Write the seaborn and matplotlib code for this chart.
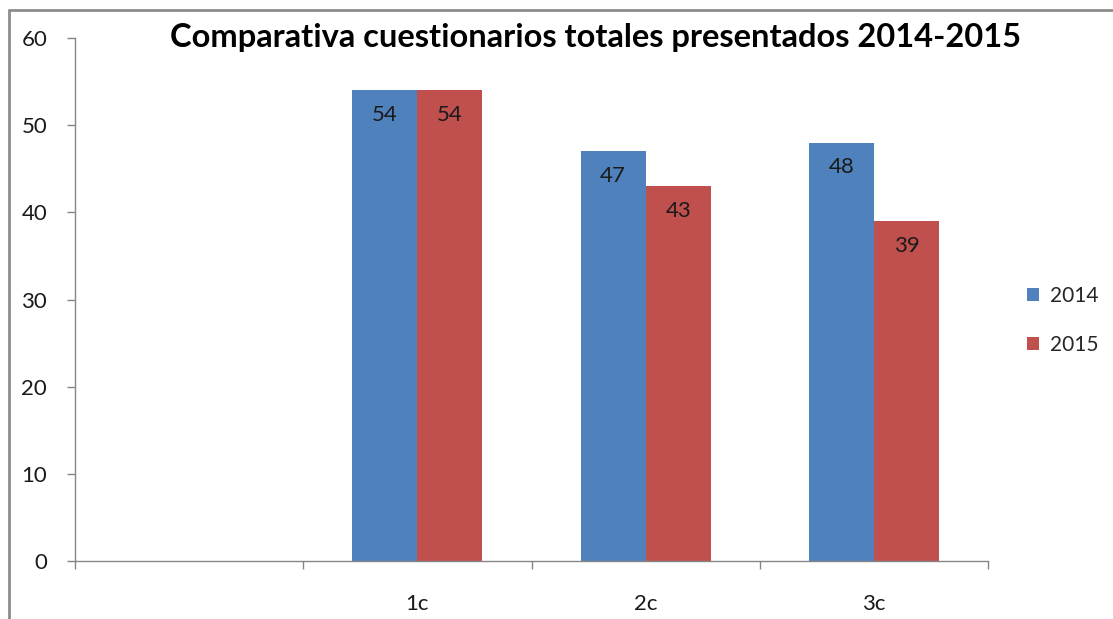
import pandas as pd
import seaborn as sns
import matplotlib.pyplot as plt
from matplotlib.lines import Line2D

categories = ["", "1c", "2c", "3c"]
series = ["2014", "2015"]
values_2014 = [None, 54, 47, 48]
values_2015 = [None, 54, 43, 39]
y_ticks = [0, 10, 20, 30, 40, 50, 60]
title = "Comparativa cuestionarios totales presentados 2014-2015"

colors = {"2014": "#4F81BD", "2015": "#C0504D"}
axis_grey = "#868686"

rows = []
for cat, v14, v15 in zip(categories, values_2014, values_2015):
    if v14 is not None:
        rows.append({"cat": cat, "year": "2014", "value": v14})
    if v15 is not None:
        rows.append({"cat": cat, "year": "2015", "value": v15})
df = pd.DataFrame(rows)

sns.set_style("white")
plt.rcParams["font.family"] = ["Lato", "DejaVu Sans"]

fig = plt.figure(figsize=(11.13, 6.19), dpi=100)
ax = fig.add_axes([75 / 1113, 1 - 561 / 619, (988 - 75) / 1113, (561 - 38) / 619])

sns.barplot(
    data=df, x="cat", y="value", hue="year", order=categories,
    hue_order=series, palette=colors, width=0.57, gap=0,
    saturation=1, errorbar=None, ax=ax, legend=True, linewidth=0,
)

# data labels inside bar tops
for container in ax.containers:
    ax.bar_label(container, padding=-25, fontsize=16, color="#1a1a1a")

ax.set_ylim(0, 60)
ax.set_xlim(-0.5, len(categories) - 0.5)
ax.set_yticks(y_ticks)
ax.set_xlabel("")
ax.set_ylabel("")

# category boundary ticks, labels at centres
ax.set_xticks([i - 0.5 for i in range(len(categories) + 1)])
ax.set_xticklabels([])
ax.set_xticks(range(len(categories)), minor=True)
ax.set_xticklabels(categories, minor=True)
ax.tick_params(axis="x", which="major", bottom=True, length=6, width=1,
               color=axis_grey, direction="out")
ax.tick_params(axis="x", which="minor", bottom=False, length=0, pad=24,
               labelsize=16, labelcolor="#1a1a1a")
ax.tick_params(axis="y", left=True, length=6, width=1, color=axis_grey,
               direction="out", pad=14, labelsize=16, labelcolor="#1a1a1a")

sns.despine(ax=ax)
for side in ["left", "bottom"]:
    ax.spines[side].set_color(axis_grey)
    ax.spines[side].set_linewidth(1)

leg = ax.legend(
    loc="center left", bbox_to_anchor=(1.022, 0.46), frameon=False,
    fontsize=15, handlelength=0.6, handleheight=0.6, handletextpad=0.5,
    labelspacing=1.4,
)

fig.text(596 / 1113, 1 - 38 / 619, title, ha="center", va="center",
         fontsize=23.5, fontweight="bold", color="black")

# chart frame (only top and left edges visible)
fig.add_artist(Line2D([9 / 1113, 1], [1 - 10 / 619, 1 - 10 / 619],
                      transform=fig.transFigure, color="#8c8c8c", lw=2))
fig.add_artist(Line2D([9 / 1113, 9 / 1113], [0, 1 - 10 / 619],
                      transform=fig.transFigure, color="#8c8c8c", lw=2))

fig.savefig("out.png", dpi=100, facecolor="white")
